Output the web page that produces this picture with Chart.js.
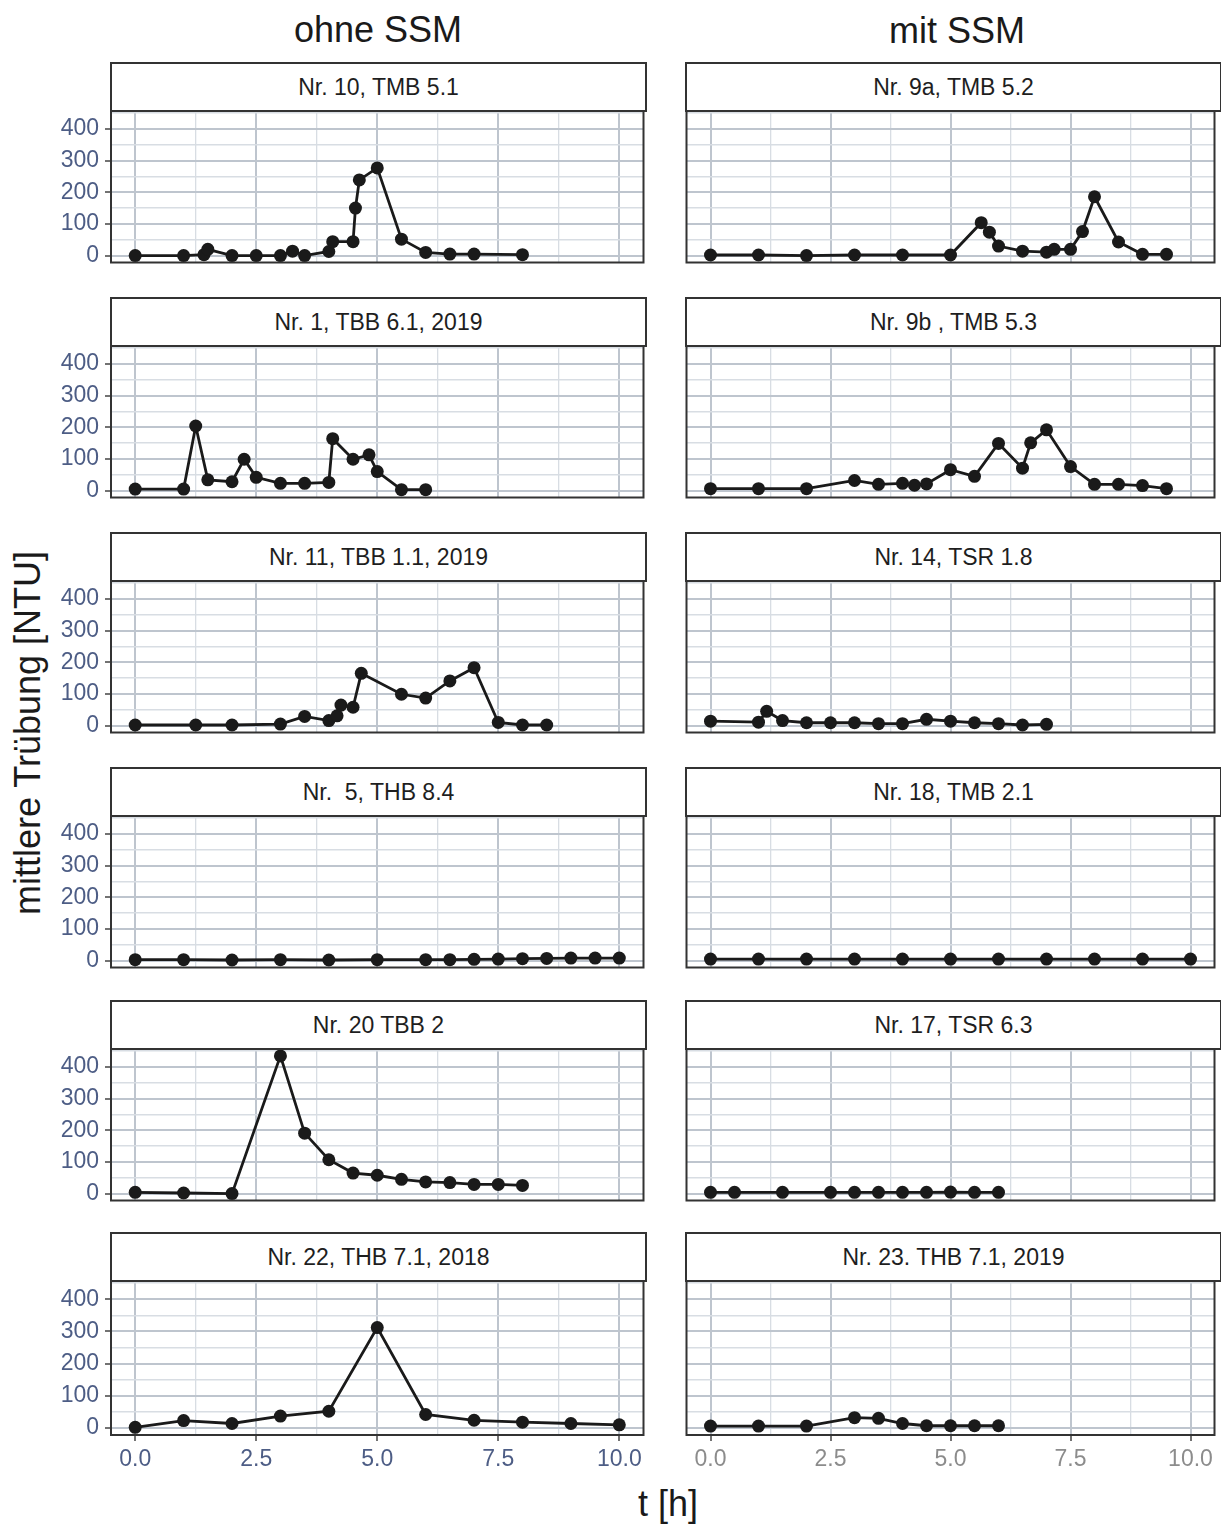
<!DOCTYPE html>
<html>
<head>
<meta charset="utf-8">
<script src="https://cdn.jsdelivr.net/npm/chart.js@4.4.1/dist/chart.umd.min.js"></script>
<style>
  body { margin: 0; background: #fff; width: 1221px; height: 1528px; position: relative; overflow: hidden;
         font-family: "Liberation Sans", Arial, sans-serif; }
  canvas { position: absolute; }
  .strip { position: absolute; box-sizing: border-box; border: 2px solid #333; background: #fff; height: 50px;
           display: flex; align-items: center; justify-content: center; font-size: 23px; color: #1e1e1e;
           white-space: pre; z-index: 2; }
  .title { position: absolute; font-size: 36px; line-height: 40px; color: #1a1a1a; white-space: nowrap; }
</style>
</head>
<body>
<div class="title" style="left:378px;top:10px;transform:translateX(-50%)">ohne SSM</div>
<div class="title" style="left:957px;top:11px;transform:translateX(-50%)">mit SSM</div>
<div class="title" style="left:28px;top:733px;transform:translate(-50%,-50%) rotate(-90deg)">mittlere Trübung [NTU]</div>
<div class="title" style="left:668px;top:1484px;transform:translateX(-50%)">t [h]</div>

<script>
// tick labels / grid positions
const xTicks = [0, 2.5, 5, 7.5, 10];
const xMinor = [1.25, 3.75, 6.25, 8.75];
const yTicks = [0, 100, 200, 300, 400];
const yMinor = [50, 150, 250, 350, 450];

// panel titles, row by row (left = ohne SSM, right = mit SSM)
const titles = [
  'Nr. 10, TMB 5.1', 'Nr. 9a, TMB 5.2',
  'Nr. 1, TBB 6.1, 2019', 'Nr. 9b , TMB 5.3',
  'Nr. 11, TBB 1.1, 2019', 'Nr. 14, TSR 1.8',
  'Nr.  5, THB 8.4', 'Nr. 18, TMB 2.1',
  'Nr. 20 TBB 2', 'Nr. 17, TSR 6.3',
  'Nr. 22, THB 7.1, 2018', 'Nr. 23. THB 7.1, 2019'
];

// time [h] and mean turbidity [NTU]
const nr10_t = [0, 1, 1.42, 1.5, 2, 2.5, 3, 3.25, 3.5, 4, 4.08, 4.5, 4.55, 4.63, 5, 5.5, 6, 6.5, 7, 8];
const nr10_y = [0, 0, 3, 20, 0, 0, 0, 14, 0, 13, 44, 44, 150, 239, 277, 52, 10, 5, 5, 3];

const nr9a_t = [0, 1, 2, 3, 4, 5, 5.64, 5.81, 6, 6.5, 7, 7.16, 7.5, 7.75, 8, 8.5, 9, 9.5];
const nr9a_y = [2, 2, 0, 2, 2, 2, 104, 74, 30, 14, 11, 20, 20, 76, 186, 43, 4, 4];

const nr1_t = [0, 1, 1.25, 1.5, 2, 2.25, 2.5, 3, 3.5, 4, 4.08, 4.5, 4.83, 5, 5.5, 6];
const nr1_y = [5, 5, 204, 34, 28, 99, 42, 23, 23, 26, 164, 99, 113, 60, 3, 3];

const nr9b_t = [0, 1, 2, 3, 3.5, 4, 4.25, 4.5, 5, 5.5, 6, 6.5, 6.67, 7, 7.5, 8, 8.5, 9, 9.5];
const nr9b_y = [6, 6, 6, 32, 20, 23, 17, 21, 66, 45, 149, 71, 151, 192, 76, 20, 20, 16, 6];

const nr11_t = [0, 1.25, 2, 3, 3.5, 4, 4.17, 4.25, 4.5, 4.67, 5.5, 6, 6.5, 7, 7.5, 8, 8.5];
const nr11_y = [2, 2, 2, 5, 29, 16, 31, 65, 58, 165, 99, 87, 141, 183, 10, 2, 2];

const nr14_t = [0, 1, 1.17, 1.5, 2, 2.5, 3, 3.5, 4, 4.5, 5, 5.5, 6, 6.5, 7];
const nr14_y = [14, 11, 45, 16, 9, 9, 9, 6, 6, 20, 14, 9, 6, 2, 4];

const nr5_t = [0, 1, 2, 3, 4, 5, 6, 6.5, 7, 7.5, 8, 8.5, 9, 9.5, 10];
const nr5_y = [3, 3, 2, 3, 2, 3, 3, 3, 4, 5, 6, 7, 8, 8, 8];

const nr18_t = [0, 1, 2, 3, 4, 5, 6, 7, 8, 9, 10];
const nr18_y = [5, 5, 5, 5, 5, 5, 5, 5, 5, 5, 5];

const nr20_t = [0, 1, 2, 3, 3.5, 4, 4.5, 5, 5.5, 6, 6.5, 7, 7.5, 8];
const nr20_y = [4, 2, 0, 435, 191, 107, 65, 58, 45, 37, 35, 29, 29, 26];

const nr17_t = [0, 0.5, 1.5, 2.5, 3, 3.5, 4, 4.5, 5, 5.5, 6];
const nr17_y = [4, 4, 4, 4, 4, 4, 4, 4, 5, 4, 4];

const nr22_t = [0, 1, 2, 3, 4, 5, 6, 7, 8, 9, 10];
const nr22_y = [2, 23, 14, 37, 52, 312, 42, 24, 18, 14, 10];

const nr23_t = [0, 1, 2, 3, 3.5, 4, 4.5, 5, 5.5, 6];
const nr23_y = [6, 6, 6, 32, 30, 14, 7, 7, 7, 7];

const series = [
  [nr10_t, nr10_y], [nr9a_t, nr9a_y],
  [nr1_t, nr1_y], [nr9b_t, nr9b_y],
  [nr11_t, nr11_y], [nr14_t, nr14_y],
  [nr5_t, nr5_y], [nr18_t, nr18_y],
  [nr20_t, nr20_y], [nr17_t, nr17_y],
  [nr22_t, nr22_y], [nr23_t, nr23_y]
];

// layout (pixels)
const plotTops = [111, 346, 581, 816, 1049, 1281];
const plotH = 154;
const FONT = "'Liberation Sans', Arial, sans-serif";
const majorGrid = '#bec5ce';
const minorGrid = '#d8dde3';

// box around each plot area
const frame = {
  id: 'frame',
  afterDraw(chart) {
    const a = chart.chartArea, c = chart.ctx;
    c.save();
    c.strokeStyle = '#333';
    c.lineWidth = 2;
    c.strokeRect(a.left, a.top, a.right - a.left, a.bottom - a.top);
    c.restore();
  }
};

function isIn(arr, v) { return arr.some(a => Math.abs(a - v) < 1e-6); }

function makePanel(i) {
  const col = i % 2, row = Math.floor(i / 2);
  const bottom = row === 5;
  const top = plotTops[row];
  const [xs, ys] = series[i];

  // strip
  const strip = document.createElement('div');
  strip.className = 'strip';
  strip.textContent = titles[i];
  strip.style.left = (col === 0 ? 110 : 685) + 'px';
  strip.style.width = '537px';
  strip.style.top = (top - 49) + 'px';
  document.body.appendChild(strip);

  const cv = document.createElement('canvas');
  const left = col === 0 ? 40 : 680;
  const w = col === 0 ? 610 : 541;
  const xh = bottom ? 45 : 0;
  const h = 10 + plotH + xh + 4;
  cv.width = w; cv.height = h;
  cv.style.left = left + 'px';
  cv.style.top = (top - 10) + 'px';
  cv.style.width = w + 'px';
  cv.style.height = h + 'px';
  document.body.appendChild(cv);

  const yw = col === 0 ? 71 : 6;
  const tickLabelColor = col === 0 ? '#4d5d85' : '#8c8c8c';

  new Chart(cv, {
    type: 'line',
    data: {
      datasets: [{
        data: xs.map((t, k) => ({ x: t, y: ys[k] })),
        borderColor: '#1a1a1a',
        borderWidth: 2.8,
        pointRadius: 6.5,
        pointBorderWidth: 0,
        pointBackgroundColor: '#1a1a1a',
        tension: 0,
        clip: false
      }]
    },
    options: {
      responsive: false,
      animation: false,
      events: [],
      layout: { padding: { left: 0, right: col === 0 ? 4 : 1, top: 10, bottom: 4 } },
      plugins: { legend: { display: false }, tooltip: { enabled: false } },
      scales: {
        x: {
          type: 'linear', min: -0.5, max: 10.5,
          afterBuildTicks: s => { s.ticks = xTicks.concat(xMinor).sort((a, b) => a - b).map(v => ({ value: v })); },
          afterFit: s => { s.height = xh; s.paddingLeft = 0; s.paddingRight = 0; },
          border: { display: false },
          grid: {
            color: c => (c.tick && isIn(xTicks, c.tick.value)) ? majorGrid : minorGrid,
            lineWidth: c => (c.tick && isIn(xTicks, c.tick.value)) ? 2 : 1.3,
            drawTicks: bottom,
            tickLength: 6,
            tickWidth: 1.5,
            tickColor: c => (c.tick && isIn(xTicks, c.tick.value)) ? '#444' : 'rgba(0,0,0,0)'
          },
          ticks: {
            display: bottom, autoSkip: false, maxRotation: 0, padding: 5,
            color: tickLabelColor, font: { size: 23, family: FONT },
            callback: v => isIn(xTicks, v) ? v.toFixed(1) : ''
          }
        },
        y: {
          type: 'linear', min: -21.75, max: 456.75,
          afterBuildTicks: s => { s.ticks = yTicks.concat(yMinor).sort((a, b) => a - b).map(v => ({ value: v })); },
          afterFit: s => { s.width = yw; s.paddingTop = 0; s.paddingBottom = 0; },
          border: { display: false },
          grid: {
            color: c => (c.tick && isIn(yTicks, c.tick.value)) ? majorGrid : minorGrid,
            lineWidth: c => (c.tick && isIn(yTicks, c.tick.value)) ? 2 : 1.6,
            drawTicks: col === 0,
            tickLength: 6,
            tickWidth: 1.5,
            tickColor: c => (c.tick && isIn(yTicks, c.tick.value)) ? '#444' : 'rgba(0,0,0,0)'
          },
          ticks: {
            display: col === 0, autoSkip: false, padding: 6,
            color: '#4d5d85', font: { size: 23, family: FONT },
            callback: v => isIn(yTicks, v) ? String(v) : ''
          }
        }
      }
    },
    plugins: [frame]
  });
}

for (let i = 0; i < 12; i++) makePanel(i);
</script>
</body>
</html>
